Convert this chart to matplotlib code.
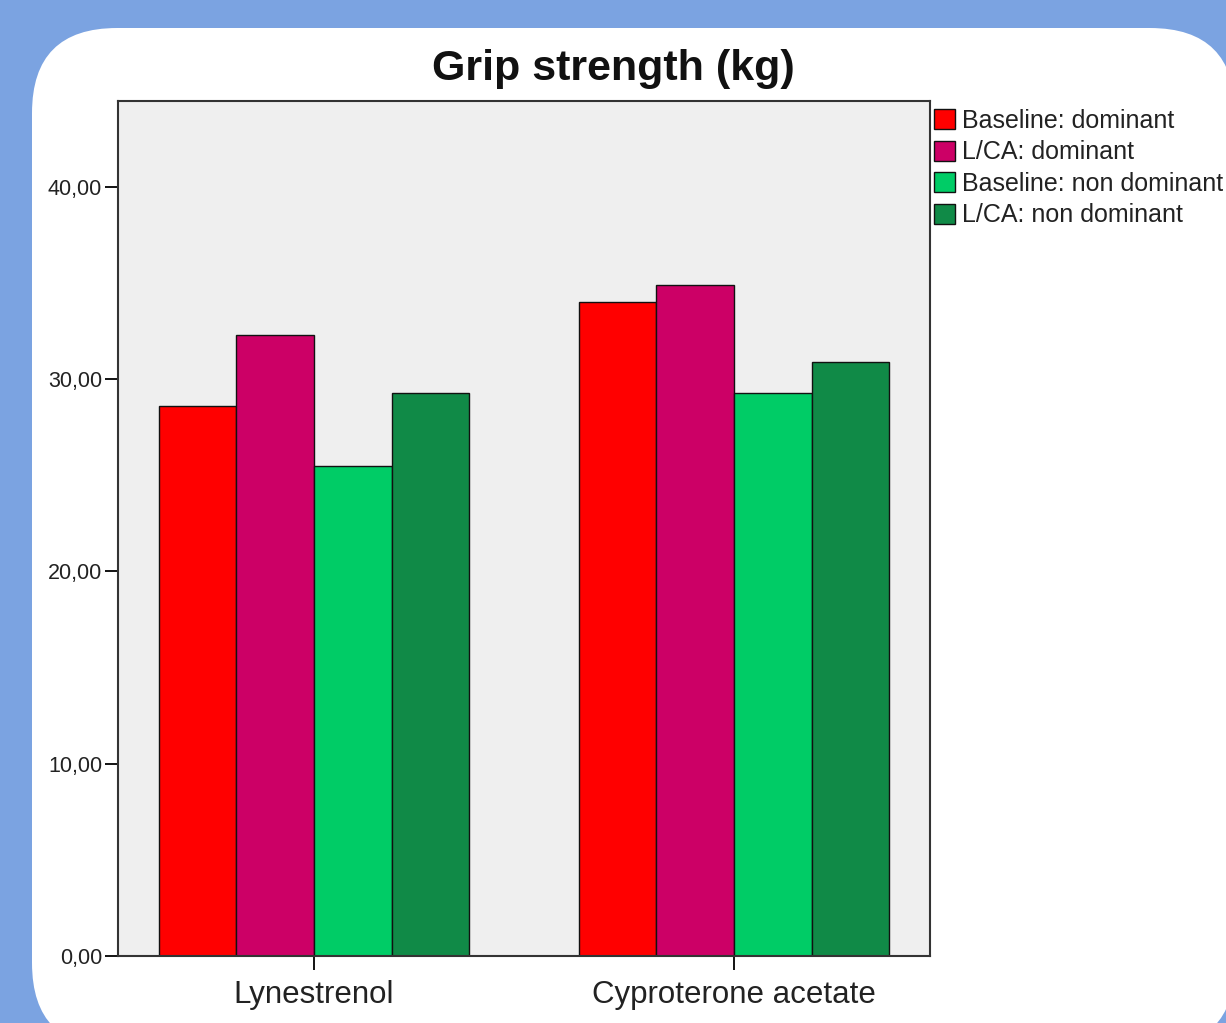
import matplotlib
matplotlib.use("Agg")
import matplotlib.pyplot as plt
import numpy as np
from matplotlib.patches import FancyBboxPatch
from matplotlib.transforms import IdentityTransform
from matplotlib.ticker import FuncFormatter

categories = ["Lynestrenol", "Cyproterone acetate"]
series_names = ["Baseline: dominant", "L/CA: dominant",
                "Baseline: non dominant", "L/CA: non dominant"]
baseline_dominant = [28.6, 34.0]
lca_dominant = [32.3, 34.9]
baseline_nondominant = [25.5, 29.3]
lca_nondominant = [29.3, 30.9]
series_values = [baseline_dominant, lca_dominant, baseline_nondominant, lca_nondominant]
colors = ["#FF0000", "#CC0066", "#00CC66", "#108A47"]
y_ticks = [0, 10, 20, 30, 40]

plt.rcParams['font.family'] = ['Liberation Sans', 'DejaVu Sans']

W, H = 1226, 1023
fig = plt.figure(figsize=(W / 100, H / 100), dpi=100)
fig.patch.set_facecolor("#7BA3E1")

panel = FancyBboxPatch((32, -25), 1203, 1020,
                       boxstyle="round,pad=0,rounding_size=85",
                       transform=IdentityTransform(),
                       facecolor="white", edgecolor="none", zorder=-10)
fig.patches.append(panel)

ax = fig.add_axes([118 / W, (H - 956) / H, 812 / W, 855 / H])
ax.set_zorder(1)
ax.set_facecolor("#EFEFEF")

x = np.arange(len(categories))
w = 0.185
for i, (name, vals, c) in enumerate(zip(series_names, series_values, colors)):
    ax.bar(x + (i - 1.5) * w, vals, width=w, color=c, edgecolor="#111111",
           linewidth=1.0, label=name, zorder=2)

ax.set_xlim(-0.4667, 1.4667)
ax.set_ylim(0, 44.47)
ax.set_xticks(x)
ax.set_xticklabels(categories, fontsize=22.5, color="#222222")
ax.set_yticks(y_ticks)
ax.yaxis.set_major_formatter(FuncFormatter(lambda v, p: f"{v:.2f}".replace(".", ",")))
ax.tick_params(axis="y", length=9.5, width=1.3, pad=2, labelsize=15.5, labelcolor="#222222")
ax.tick_params(axis="x", length=10, width=1.3, pad=7)
for s in ax.spines.values():
    s.set_linewidth(1.5)
    s.set_color("#333333")

fig.text(0.5, 1 - 69 / H, "Grip strength (kg)", ha="center", va="center",
         fontsize=31, fontweight="bold", color="#111111", zorder=5)

leg = ax.legend(loc="upper left", bbox_to_anchor=(1.0, 1.0 - 4 / 855), borderaxespad=0.0,
                frameon=False, fontsize=18, handlelength=0.85, handleheight=0.85,
                handletextpad=0.3, labelspacing=0.3, borderpad=0.15)
for t in leg.get_texts():
    t.set_color("#222222")

fig.savefig("out.png", dpi=100, facecolor=fig.get_facecolor())
